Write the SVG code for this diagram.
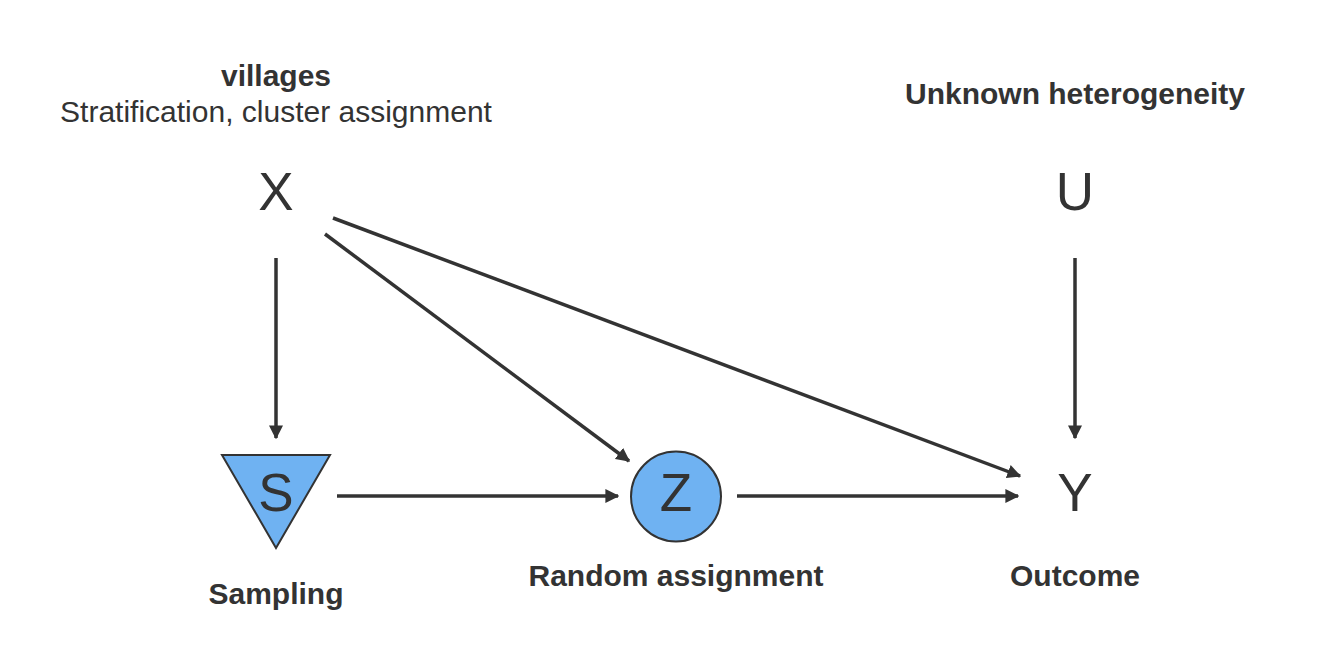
<svg xmlns="http://www.w3.org/2000/svg" width="1344" height="672" viewBox="0 0 1344 672">
<defs>
<marker id="ah" viewBox="0 0 10 10" refX="9" refY="5" markerWidth="4" markerHeight="4" orient="auto" markerUnits="strokeWidth">
<path d="M0,0 L10,5 L0,10 z" fill="#333333"/>
</marker>
</defs>
<style>
.lbl{font-family:"Liberation Sans",Arial,sans-serif;fill:#333333;text-anchor:middle}
.b{font-weight:bold;font-size:30px}
.r{font-size:30px}
.var{font-family:"Liberation Sans",Arial,sans-serif;fill:#333333;text-anchor:middle;font-size:53px}
.shape{fill:#6fb2f2;stroke:#333333;stroke-width:2}
.edge{stroke:#333333;stroke-width:3.5;fill:none;marker-end:url(#ah)}
</style>
<rect width="1344" height="672" fill="#ffffff"/>
<g id="edges">
<line class="edge" x1="276" y1="258" x2="276" y2="438"/>
<line class="edge" x1="1075" y1="258" x2="1075" y2="438"/>
<line class="edge" x1="325" y1="234" x2="629" y2="461"/>
<line class="edge" x1="333" y1="218" x2="1020" y2="476"/>
<line class="edge" x1="337" y1="496" x2="618" y2="496"/>
<line class="edge" x1="737" y1="496" x2="1018" y2="496"/>
</g>
<g id="node-X">
<text class="lbl b" x="276" y="86">villages</text>
<text class="lbl r" x="276" y="122">Stratification, cluster assignment</text>
<text class="var" x="276" y="210">X</text>
</g>
<g id="node-U">
<text class="lbl b" x="1075" y="104">Unknown heterogeneity</text>
<text class="var" x="1075" y="210">U</text>
</g>
<g id="node-S">
<polygon class="shape" points="222,455 330,455 276,548"/>
<text class="var" x="276" y="511">S</text>
<text class="lbl b" x="276" y="604">Sampling</text>
</g>
<g id="node-Z">
<circle class="shape" cx="676" cy="496.5" r="45"/>
<text class="var" x="676" y="511">Z</text>
<text class="lbl b" x="676" y="586">Random assignment</text>
</g>
<g id="node-Y">
<text class="var" x="1075" y="511">Y</text>
<text class="lbl b" x="1075" y="586">Outcome</text>
</g>
</svg>
